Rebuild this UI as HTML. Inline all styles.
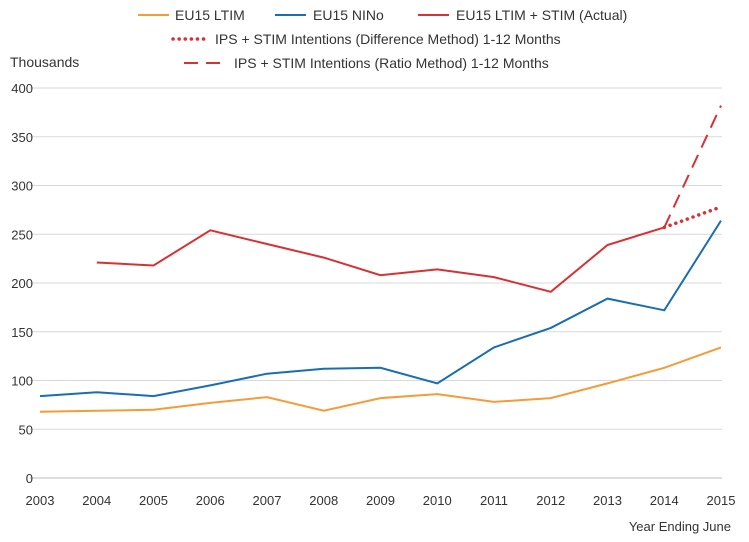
<!DOCTYPE html>
<html><head><meta charset="utf-8"><style>
html,body{margin:0;padding:0;background:#fff;}
svg{display:block;font-family:"Liberation Sans","DejaVu Sans",sans-serif;}
</style></head><body>
<svg id="chart" width="749" height="542">
<g id="legend">
 <g><line x1="138" y1="15" x2="169" y2="15" stroke="#f39c38" stroke-width="2"/><text x="175" y="20" font-size="14" fill="#333">EU15 LTIM</text></g>
 <g><line x1="275" y1="15" x2="306" y2="15" stroke="#1a6eb0" stroke-width="2"/><text x="313" y="20" font-size="14" fill="#333">EU15 NINo</text></g>
 <g><line x1="418" y1="15" x2="449" y2="15" stroke="#d63236" stroke-width="2"/><text x="456" y="20" font-size="14" fill="#333">EU15 LTIM + STIM (Actual)</text></g>
 <g><line x1="173" y1="39" x2="208" y2="39" stroke="#d63236" stroke-width="3.5" stroke-dasharray="0.1,6" stroke-linecap="round"/><text x="215" y="44" font-size="14" fill="#333">IPS + STIM Intentions (Difference Method) 1-12 Months</text></g>
 <g><line x1="184" y1="63" x2="225" y2="63" stroke="#d63236" stroke-width="2" stroke-dasharray="14,8"/><text x="234" y="68" font-size="14" fill="#333">IPS + STIM Intentions (Ratio Method) 1-12 Months</text></g>
</g>
<text x="10" y="67" font-size="14" fill="#333">Thousands</text>
<text x="731" y="531" font-size="13" fill="#333" text-anchor="end">Year Ending June</text>
<g id="grid"></g><g id="axes"></g><g id="series"></g>
</svg>
<script>
const years = [2003,2004,2005,2006,2007,2008,2009,2010,2011,2012,2013,2014,2015];
const ltim = [68,69,70,77,83,69,82,86,78,82,97,113,134];
const nino = [84,88,84,95,107,112,113,97,134,154,184,172,264];
const actual = [null,221,218,254,240,226,208,214,206,191,239,257,null];
const diffYears = [2014,2015];
const diffVals = [257,278];
const ratioYears = [2014,2015];
const ratioVals = [257,382];
const yTicks = [0,50,100,150,200,250,300,350,400];

const NS='http://www.w3.org/2000/svg';
const x = v => 40 + (v-2003)*(721-40)/12;
const y = v => 478 - v*0.975;
function mk(tag, attrs, parent){const e=document.createElementNS(NS,tag);for(const k in attrs)e.setAttribute(k,attrs[k]);document.getElementById(parent).appendChild(e);return e;}
yTicks.forEach(t=>{
 const l=mk('line',{x1:30,x2:722,y1:y(t),y2:y(t),stroke:t===0?'#bbb':'#d9d9d9','stroke-width':1},'grid');
 
 
 const tx=mk('text',{x:33,y:y(t)+5,'font-size':13,fill:'#333','text-anchor':'end'},'axes');
 tx.textContent=t;
 
 
});
years.forEach(yr=>{
 const tx=mk('text',{x:x(yr),y:505,'font-size':13,fill:'#333','text-anchor':'middle'},'axes');
 tx.textContent=yr;
 
 
});
function path(xs, vs){let d='';let first=true;vs.forEach((v,i)=>{if(v===null)return;d+=(first?'M':'L')+x(xs[i]).toFixed(1)+','+y(v).toFixed(1);first=false;});return d;}
const s1=mk('path',{d:path(years,ltim),fill:'none',stroke:'#f39c38','stroke-width':2},'series');


const s2=mk('path',{d:path(years,nino),fill:'none',stroke:'#1a6eb0','stroke-width':2},'series');


const s3=mk('path',{d:path(years,actual),fill:'none',stroke:'#d63236','stroke-width':2},'series');


const s4=mk('path',{d:path(diffYears,diffVals),fill:'none',stroke:'#d63236','stroke-width':3.5,'stroke-dasharray':'0.1,6','stroke-linecap':'round'},'series');


const s5=mk('path',{d:path(ratioYears,ratioVals),fill:'none',stroke:'#d63236','stroke-width':2,'stroke-dasharray':'14,8'},'series');


</script>
</body></html>
